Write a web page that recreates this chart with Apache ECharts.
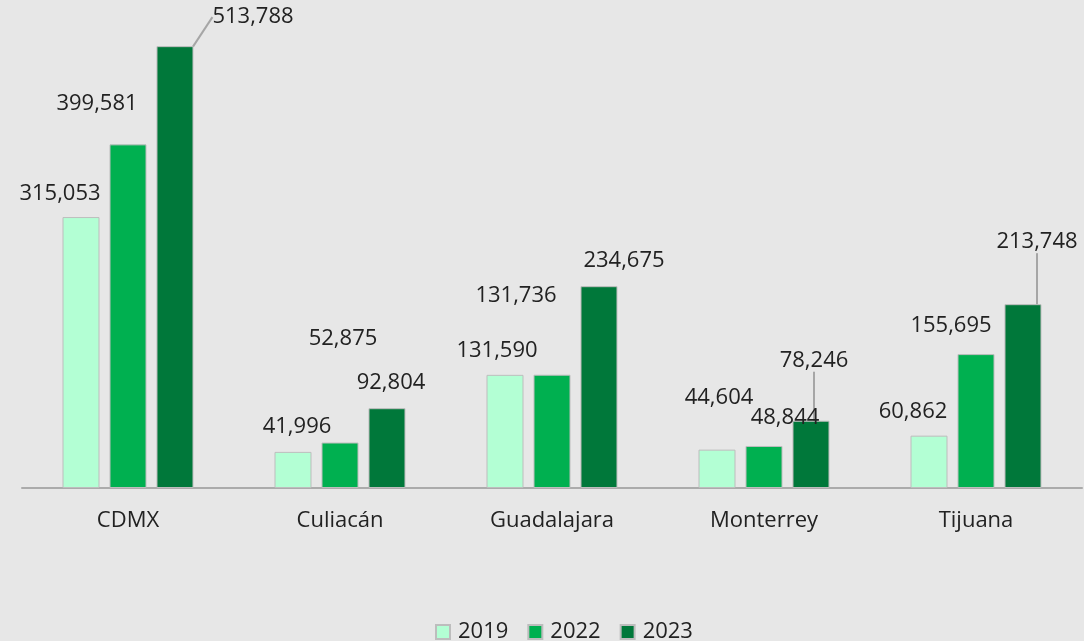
<!DOCTYPE html>
<html>
<head>
<meta charset="utf-8">
<script src="https://cdn.jsdelivr.net/npm/echarts@6/dist/echarts.min.js"></script>
<style>
  html, body { margin: 0; padding: 0; background: #e7e7e7; }
  #chart { width: 1084px; height: 641px; }
</style>
</head>
<body>
<div id="chart"></div>
<script>
  var cities = ['CDMX', 'Culiacán', 'Guadalajara', 'Monterrey', 'Tijuana'];
  var years = ['2019', '2022', '2023'];
  var v2019 = [315053, 41996, 131590, 44604, 60862];
  var v2022 = [399581, 52875, 131736, 48844, 155695];
  var v2023 = [513788, 92804, 234675, 78246, 213748];

  // label nudges (px) per series, per city, mimicking the original placement
  var labelShift = [
    [[-21, -7], [4, -9], [-8, -8], [2, -36], [-16, -8]],
    [[-31, -25], [3, -88], [-36, -63], [21, -12], [-25, -12]],
    [[78, -13], [4, -9], [25, -9], [3, -44], [14, -46]]
  ];
  // which labels get a leader line
  var withLine = [
    [false, false, false, false, false],
    [false, false, false, false, false],
    [true, false, false, true, true]
  ];

  var colors = ['#b3ffd4', '#00b050', '#00783a'];

  function makeData(vals, s) {
    return vals.map(function (v, i) {
      return { value: v, labelLine: { show: withLine[s][i] } };
    });
  }

  var chart = echarts.init(document.getElementById('chart'));
  var option = {
    backgroundColor: '#e7e7e7',
    textStyle: { fontFamily: 'Open Sans' },
    grid: { left: 22, right: 2, top: 15, bottom: 153 },
    legend: {
      top: 616,
      left: 430,
      icon: 'rect',
      itemWidth: 14,
      itemHeight: 14,
      itemGap: 19,
      textStyle: { fontSize: 22, color: '#222222', fontFamily: 'Open Sans', padding: [0, 0, 0, 3] },
      data: years
    },
    xAxis: {
      type: 'category',
      data: cities,
      axisTick: { show: false },
      axisLine: { lineStyle: { color: '#ababab', width: 2 } },
      axisLabel: { fontSize: 22, color: '#222222', margin: 22, fontFamily: 'Open Sans' }
    },
    yAxis: {
      type: 'value',
      min: 0,
      max: 550000,
      show: false,
      splitLine: { show: false }
    },
    labelLayout: function (p) {
      var d = labelShift[p.seriesIndex][p.dataIndex];
      return { dx: d[0], dy: d[1], hideOverlap: false };
    },
    series: years.map(function (y, s) {
      return {
        name: y,
        type: 'bar',
        barWidth: 37,
        barGap: '27%',
        data: makeData([v2019, v2022, v2023][s], s),
        itemStyle: { color: colors[s], borderColor: '#bdbdbd', borderWidth: 1 },
        label: {
          show: true,
          position: 'top',
          distance: 5,
          fontSize: 22,
          color: '#222222',
          fontFamily: 'Open Sans',
          formatter: function (p) { return p.value.toLocaleString('en-US'); }
        },
        labelLine: { show: false, lineStyle: { color: '#a6a6a6', width: 2 } }
      };
    })
  };
  chart.setOption(option);
</script>
</body>
</html>
